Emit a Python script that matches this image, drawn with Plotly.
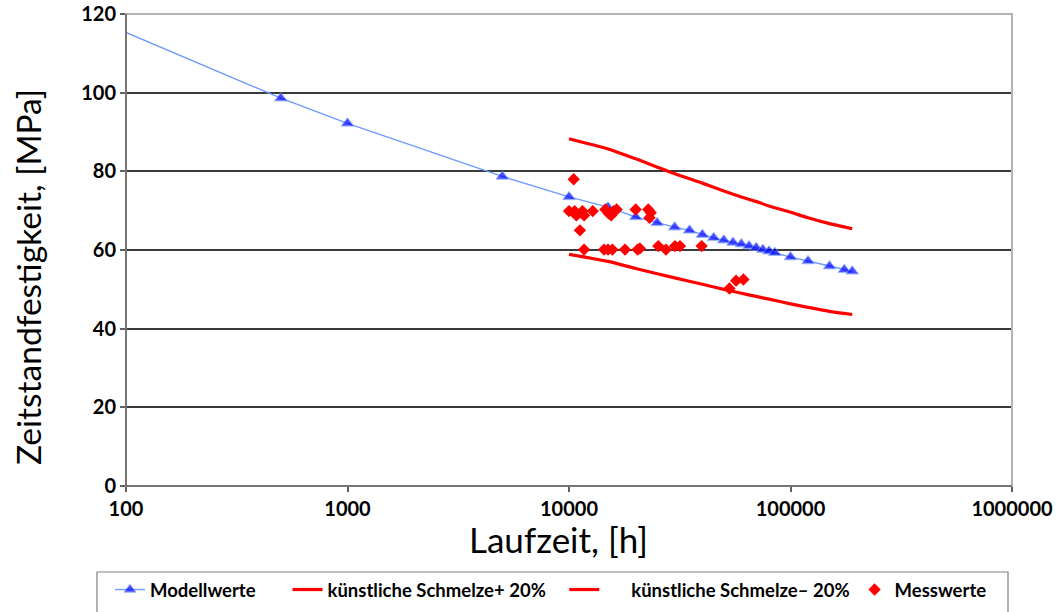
import plotly.graph_objects as go

# ---------------- data ----------------
model_x = [100, 500, 1000, 5000, 10000, 15000, 20000, 25000, 30000, 35000, 40000,
           45000, 50000, 55000, 60000, 65000, 70000, 75000, 80000, 85000,
           100000, 120000, 150000, 175000, 190000]
model_y = [115.3, 98.6, 92.2, 78.7, 73.5, 70.9, 68.4, 66.9, 65.8, 65.0, 63.9,
           63.1, 62.5, 61.9, 61.5, 61.0, 60.6, 60.1, 59.7, 59.3,
           58.2, 57.2, 55.9, 55.0, 54.6]

band_x = [10000, 15000, 20000, 30000, 40000, 50000, 60000, 70000, 80000,
          100000, 120000, 150000, 190000]
upper_y = [88.3, 85.7, 83.2, 79.4, 77.0, 75.0, 73.5, 72.3, 71.2, 69.6, 68.2, 66.7, 65.4]
lower_y = [58.9, 57.1, 55.3, 52.9, 51.3, 50.0, 49.0, 48.2, 47.5, 46.3, 45.4, 44.4, 43.6]

mess_x = [10500, 10000, 10600, 11500, 12800, 10800, 11700, 11200, 11700,
          14600, 15100, 15900, 16400, 15500, 14400, 15000, 15700, 17900, 20400,
          20000, 22800, 23400, 23100, 20900, 25300, 27400, 30100, 31700, 39700,
          53000, 56800, 61300]
mess_y = [78.0, 69.9, 69.9, 69.9, 69.9, 68.8, 68.8, 65.0, 60.1,
          70.3, 69.3, 69.9, 70.3, 68.8, 60.1, 60.1, 60.1, 60.1, 60.1,
          70.3, 70.3, 69.5, 68.2, 60.4, 61.0, 60.1, 61.0, 61.0, 61.0,
          50.2, 52.2, 52.5]

x_tickvals = [100, 1000, 10000, 100000, 1000000]
x_ticktext = ["100", "1000", "10000", "100000", "1000000"]
y_tickvals = [0, 20, 40, 60, 80, 100, 120]

names = ["Modellwerte", "künstliche Schmelze+ 20%", "künstliche Schmelze– 20%", "Messwerte"]
x_title = "Laufzeit, [h]"
y_title = "Zeitstandfestigkeit, [MPa]"

# ---------------- figure ----------------
W, H = 1058, 612
L, R, T, B = 126, 46, 14, 126
pw, ph = W - L - R, H - T - B

def px_x(p):
    return (p - L) / pw

def px_y(p):
    return (H - B - p) / ph

fig = go.Figure()

NB = "\u00a0"
msizes = [0] + [11] * (len(model_x) - 1)
fig.add_trace(go.Scatter(
    x=model_x, y=model_y, mode="lines+markers", name=names[0] + NB * 6,
    line=dict(color="#6f9bff", width=1.4),
    marker=dict(symbol="triangle-up", size=msizes, color="#0000ff"),
))
fig.add_trace(go.Scatter(
    x=band_x, y=upper_y, mode="lines", name=names[1] + NB * 3,
    line=dict(color="#ff0000", width=3.2, shape="spline", smoothing=0.6),
))
fig.add_trace(go.Scatter(
    x=band_x, y=lower_y, mode="lines", name=NB * 6 + names[2],
    line=dict(color="#ff0000", width=3.2, shape="spline", smoothing=0.6),
))
fig.add_trace(go.Scatter(
    x=mess_x, y=mess_y, mode="markers", name=names[3],
    marker=dict(symbol="diamond", size=9.5, color="#ff0000"),
))

fig.update_layout(
    width=W, height=H,
    margin=dict(l=L, r=R, t=T, b=B, pad=0, autoexpand=False),
    paper_bgcolor="white", plot_bgcolor="white",
    font=dict(family="Lato", color="#000000"),
    xaxis=dict(
        type="log", range=[2, 6], tickvals=x_tickvals, ticktext=x_ticktext,
        tickfont=dict(family="Lato", size=20, color="#000000", weight="bold"),
        showgrid=False, zeroline=False, automargin=False,
        ticks="outside", ticklen=5, tickcolor="#606060", tickwidth=1.5,
        showline=False,
    ),
    yaxis=dict(
        range=[0, 120], tickvals=y_tickvals,
        tickfont=dict(family="Lato", size=20, color="#000000", weight="bold"),
        showgrid=True, gridcolor="#3a3a3a", gridwidth=1.6, zeroline=False,
        automargin=False,
        ticks="outside", ticklen=5, tickcolor="#606060", tickwidth=1.5,
        showline=False,
    ),
    legend=dict(
        orientation="h", xref="container", yref="container",
        x=110 / W, y=1 - 571 / H, xanchor="left", yanchor="top",
        font=dict(family="Lato", size=18.5, color="#000000", weight="bold"),
        bgcolor="rgba(0,0,0,0)", borderwidth=0, itemwidth=30,
        tracegroupgap=0,
    ),
    annotations=[
        dict(text=x_title, xref="paper", yref="paper", x=px_x(558), y=px_y(539),
             xanchor="center", yanchor="middle", showarrow=False,
             font=dict(family="Lato", size=35, color="#000000")),
        dict(text=y_title, xref="paper", yref="paper", x=px_x(28), y=px_y(277),
             xanchor="center", yanchor="middle", showarrow=False, textangle=-90,
             font=dict(family="Lato", size=33.5, color="#000000")),
    ],
    shapes=[
        dict(type="rect", xref="paper", yref="paper", x0=0, x1=1, y0=0, y1=1,
             line=dict(color="#b4b4b4", width=2), layer="above"),
        dict(type="line", xref="paper", yref="paper", x0=0, x1=0, y0=0, y1=1,
             line=dict(color="#606060", width=1.5), layer="above"),
        dict(type="line", xref="paper", yref="paper", x0=0, x1=1, y0=0, y1=0,
             line=dict(color="#606060", width=1.5), layer="above"),
        dict(type="rect", xref="paper", yref="paper",
             x0=px_x(97), x1=px_x(1008), y0=px_y(640), y1=px_y(572),
             line=dict(color="#808080", width=1.2), layer="below"),
    ],
)

fig.write_html("out.html")
